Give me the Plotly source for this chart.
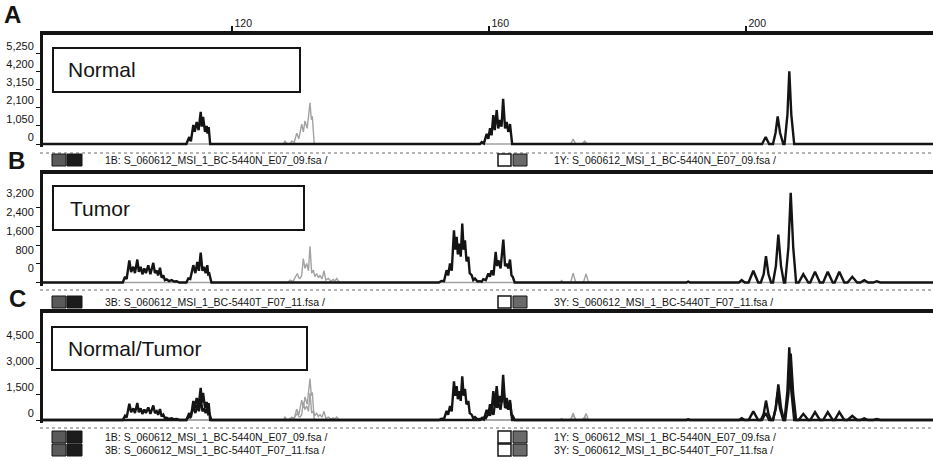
import plotly.graph_objects as go

# ---------------- data (size in bp, signal in RFU) ----------------
x_ticks = [120, 160, 200]
y_ticks_A = [0, 1050, 2100, 3150, 4200, 5250]
y_ticks_B = [0, 800, 1600, 2400, 3200]
y_ticks_C = [0, 1500, 3000, 4500]

normal_blue_bp = [90, 112.9, 113.35, 113.6, 113.98, 114.2, 114.5, 114.8, 115.13, 115.3, 115.5, 115.8,
                  116.06, 116.2, 116.37, 116.6,
                  158.6, 158.86, 159.2, 159.64, 159.9, 160.16, 160.4, 160.67, 160.9, 161.2, 161.45,
                  161.7, 161.95, 162.2, 162.5, 162.75, 163.0, 163.27, 163.6,
                  190.7, 191.0, 191.3,
                  202.5, 203.06, 203.6, 204.2, 204.6, 204.93, 205.3, 205.8, 206.0, 206.45, 206.74,
                  207.05, 207.5, 229.5]
normal_blue_rfu = [0, 0, 400, 150, 1100, 700, 1270, 800, 1850, 1000, 1560, 700,
                   1040, 600, 980, 0,
                   0, 115, 30, 580, 300, 920, 500, 1670, 800, 1960, 900,
                   1380, 1000, 2600, 900, 1270, 700, 1150, 0,
                   0, 40, 0,
                   0, 400, 0, 0, 650, 1590, 650, 0, 0, 1700, 4190,
                   1700, 0, 0]

normal_yellow_bp = [90, 128.0, 128.25, 128.6, 129.0, 129.3, 129.7, 130.07, 130.4, 130.85, 131.1, 131.36,
                    131.7, 132.14, 132.35, 132.5, 132.8,
                    172.7, 173.1, 173.5, 174.5, 174.9, 175.3, 229.5]
normal_yellow_rfu = [0, 0, 170, 0, 0, 170, 100, 630, 300, 1150, 700, 1330,
                     900, 2370, 1400, 1600, 0,
                     0, 290, 0, 0, 170, 0, 0]

tumor_blue_bp = [90, 103.0, 103.35, 103.6, 104.02, 104.3, 104.64, 104.9, 105.26, 105.5, 105.79, 106.05,
                 106.35, 106.6, 106.97, 107.3, 107.75, 108.0, 108.28, 108.5, 108.79, 109.05, 109.31,
                 109.55, 109.84, 110.2, 110.6, 111.0, 111.4, 111.8,
                 112.9, 113.2, 113.5, 113.98, 114.3, 114.6, 114.85, 115.13, 115.4, 115.64, 115.9,
                 116.16, 116.3, 116.47, 116.8,
                 152.2, 152.6, 153.0, 153.4, 153.65, 153.93, 154.2, 154.55, 154.75, 154.97, 155.15,
                 155.38, 155.6, 155.84, 156.05, 156.26, 156.5, 156.78, 157.0, 157.3, 157.55, 157.82,
                 158.2, 158.6, 158.85, 159.11, 159.5, 159.9, 160.15, 160.42, 160.7, 161.04, 161.25,
                 161.45, 161.8, 162.23, 162.5, 162.75, 163.0, 163.27, 163.5, 163.69, 164.0,
                 190.7, 191.0, 191.3,
                 198.9, 199.33, 199.8, 200.4, 201.14, 201.9, 202.3, 202.75, 203.11, 203.5, 203.9,
                 204.2, 204.65, 205.03, 205.45, 205.9, 206.1, 206.6, 206.96, 207.35, 207.8,
                 208.2, 208.92, 209.7, 210.0, 210.74, 211.5, 212.0, 212.72, 213.5, 213.8, 214.52,
                 215.3, 215.8, 216.54, 217.3, 217.8, 218.41, 219.0, 219.8, 220.34, 220.9, 229.5]
tumor_blue_rfu = [0, 0, 243, 150, 940, 450, 670, 400, 980, 450, 670, 350,
                  600, 400, 730, 350, 840, 400, 510, 300, 630, 200, 310,
                  100, 130, 60, 100, 40, 55, 0,
                  0, 170, 150, 740, 400, 880, 500, 1280, 500, 670, 400,
                  740, 350, 380, 0,
                  0, 70, 60, 525, 300, 810, 500, 2230, 1400, 1950, 1200,
                  1665, 1100, 2520, 1400, 1800, 900, 1100, 400, 310, 100, 170,
                  40, 55, 30, 140, 100, 385, 250, 525, 300, 1310, 700,
                  950, 600, 1835, 700, 810, 600, 980, 300, 245, 0,
                  0, 40, 0,
                  0, 100, 0, 0, 500, 0, 0, 350, 1120, 350, 0,
                  0, 700, 2050, 700, 0, 0, 1500, 3830, 1500, 0,
                  0, 355, 0, 0, 455, 0, 0, 455, 0, 0, 455,
                  0, 0, 245, 0, 0, 100, 0, 0, 55, 0, 0]

tumor_yellow_bp = [90, 128.7, 129.03, 129.5, 130.17, 130.4, 130.58, 130.85, 131.1, 131.35, 131.63, 131.9,
                   132.14, 132.4, 132.66, 132.9, 133.18, 133.45, 133.7, 134.0, 134.32, 134.6, 134.99,
                   135.4, 135.77, 136.0, 136.3, 136.7,
                   171.0, 171.3, 171.6, 172.7, 173.1, 173.5, 174.7, 175.1, 175.5, 229.5]
tumor_yellow_rfu = [0, 0, 100, 50, 385, 200, 170, 300, 1025, 600, 810, 500,
                    1550, 400, 525, 250, 385, 200, 310, 150, 500, 100, 170,
                    50, 130, 60, 170, 0,
                    0, 85, 0, 0, 400, 0, 0, 370, 0, 0]

panel_titles = ["Normal", "Tumor", "Normal/Tumor"]
panel_letters = ["A", "B", "C"]
blue_normal_name = "1B: S_060612_MSI_1_BC-5440N_E07_09.fsa /"
yellow_normal_name = "1Y: S_060612_MSI_1_BC-5440N_E07_09.fsa /"
blue_tumor_name = "3B: S_060612_MSI_1_BC-5440T_F07_11.fsa /"
yellow_tumor_name = "3Y: S_060612_MSI_1_BC-5440T_F07_11.fsa /"

# ---------------- layout helpers (pixels -> paper) ----------------
W, H = 933, 461
def px(x):
    return x / W
def py(y):
    return 1 - y / H

BLACK = "#141414"
GRAY = "#a2a2a2"
FONT = "Liberation Sans, Arial, sans-serif"

fig = go.Figure()

def add(xs, ys, color, width, xa, ya):
    fig.add_trace(go.Scatter(x=xs, y=ys, mode="lines", line=dict(color=color, width=width),
                             xaxis=xa, yaxis=ya, showlegend=False, hoverinfo="skip"))

# Panel A (normal)
add(normal_yellow_bp, normal_yellow_rfu, GRAY, 1.4, "x", "y")
add(normal_blue_bp, normal_blue_rfu, BLACK, 2.4, "x", "y")
# Panel B (tumor)
add(tumor_yellow_bp, tumor_yellow_rfu, GRAY, 1.4, "x2", "y2")
add(tumor_blue_bp, tumor_blue_rfu, BLACK, 2.4, "x2", "y2")
# Panel C (overlay)
add(normal_yellow_bp, normal_yellow_rfu, GRAY, 1.4, "x3", "y3")
add(tumor_yellow_bp, tumor_yellow_rfu, GRAY, 1.4, "x3", "y3")
add(normal_blue_bp, normal_blue_rfu, BLACK, 2.4, "x3", "y3")
add(tumor_blue_bp, tumor_blue_rfu, BLACK, 2.4, "x3", "y3")

# panels: (top px, bottom px, baseline px, rfu per px, label shift px, ticks)
panels = [
    (35, 147, 144, 57.7, 7, y_ticks_A),
    (174, 285.5, 282.5, 42.7, 14, y_ticks_B),
    (313, 423, 420, 57.7, 7, y_ticks_C),
]

x_left, x_right = 43, 933
bp_at_left = 120 - (232 - x_left) / 6.425
bp_at_right = 120 + (x_right - 232) / 6.425

layout = dict(
    width=W, height=H, margin=dict(l=0, r=0, t=0, b=0),
    paper_bgcolor="white", plot_bgcolor="white",
    font=dict(family=FONT, color=BLACK),
    showlegend=False,
)

for i, (top, bot, base, scale, shift, ticks) in enumerate(panels):
    n = "" if i == 0 else str(i + 1)
    yr = [-(bot - base) * scale, (base - top) * scale]
    layout["yaxis" + n] = dict(
        domain=[py(bot), py(top)], range=yr, anchor="x" + n,
        tickvals=ticks, ticktext=[f"{t:,}" for t in ticks],
        ticks="outside", ticklen=4, tickwidth=1, tickcolor=BLACK,
        showline=True, linewidth=3, linecolor=BLACK,
        showgrid=False, zeroline=False, fixedrange=True,
        tickfont=dict(size=11, family=FONT, color=BLACK),
        ticklabelshift=-shift,
    )
    xa = dict(
        domain=[px(x_left), px(x_right)], range=[bp_at_left, bp_at_right],
        anchor="y" + n, side="top", showline=True, linewidth=3.5, linecolor=BLACK,
        showgrid=False, zeroline=False, fixedrange=True,
    )
    if i == 0:
        xa.update(tickvals=x_ticks, ticks="outside", ticklen=5, tickwidth=1.5, tickcolor=BLACK,
                  ticklabelposition="outside right",
                  tickfont=dict(size=10.5, family=FONT, color=BLACK))
    else:
        xa.update(matches="x", showticklabels=False, ticks="")
    layout["xaxis" + n] = xa

shapes = []
annotations = []

# dotted separator lines below each panel
for y in [153, 290, 428]:
    shapes.append(dict(type="line", xref="paper", yref="paper", x0=px(40), x1=px(933),
                       y0=py(y), y1=py(y), line=dict(color="#6a6a6a", width=1, dash="dot")))

# title boxes
boxes = [(53, 48, 300, 92, 66), (53, 186, 304, 230, 68), (52, 327, 307, 370, 66)]
for (x0, y0, x1, y1, tx), title in zip(boxes, panel_titles):
    shapes.append(dict(type="rect", xref="paper", yref="paper", x0=px(x0), x1=px(x1),
                       y0=py(y1), y1=py(y0), line=dict(color=BLACK, width=2), fillcolor="white"))
    annotations.append(dict(text=title, xref="paper", yref="paper", x=px(tx), y=py((y0 + y1) / 2),
                            xanchor="left", yanchor="middle", showarrow=False,
                            font=dict(size=21, family=FONT, color=BLACK)))

# panel letters
for letter, (lx, ly) in zip(panel_letters, [(12, 15), (16, 160), (17, 298)]):
    annotations.append(dict(text=f"<b>{letter}</b>", xref="paper", yref="paper", x=px(lx), y=py(ly),
                            xanchor="center", yanchor="middle", showarrow=False,
                            font=dict(size=24, family=FONT, color=BLACK)))

# channel legend rows
def legend_row(yc, blue_text, yellow_text):
    h = 12
    shapes.append(dict(type="rect", xref="paper", yref="paper", x0=px(52), x1=px(66),
                       y0=py(yc + h / 2), y1=py(yc - h / 2), line=dict(color=BLACK, width=1),
                       fillcolor="#5a5a5a"))
    shapes.append(dict(type="rect", xref="paper", yref="paper", x0=px(67), x1=px(82),
                       y0=py(yc + h / 2), y1=py(yc - h / 2), line=dict(color=BLACK, width=1),
                       fillcolor="#1c1c1c"))
    shapes.append(dict(type="rect", xref="paper", yref="paper", x0=px(498), x1=px(511),
                       y0=py(yc + h / 2), y1=py(yc - h / 2), line=dict(color=BLACK, width=1.5),
                       fillcolor="white"))
    shapes.append(dict(type="rect", xref="paper", yref="paper", x0=px(513), x1=px(527),
                       y0=py(yc + h / 2), y1=py(yc - h / 2), line=dict(color=BLACK, width=1),
                       fillcolor="#6a6a6a"))
    annotations.append(dict(text=blue_text, xref="paper", yref="paper", x=px(103), y=py(yc),
                            xanchor="left", yanchor="middle", showarrow=False,
                            font=dict(size=10.5, family=FONT, color=BLACK)))
    annotations.append(dict(text=yellow_text, xref="paper", yref="paper", x=px(552), y=py(yc),
                            xanchor="left", yanchor="middle", showarrow=False,
                            font=dict(size=10.5, family=FONT, color=BLACK)))

legend_row(160, blue_normal_name, yellow_normal_name)
legend_row(302, blue_tumor_name, yellow_tumor_name)
legend_row(437, blue_normal_name, yellow_normal_name)
legend_row(450, blue_tumor_name, yellow_tumor_name)

layout["shapes"] = shapes
layout["annotations"] = annotations
fig.update_layout(**layout)

fig.write_html("out.html", config={"displayModeBar": False},
               post_script="document.body.style.margin='0';")
